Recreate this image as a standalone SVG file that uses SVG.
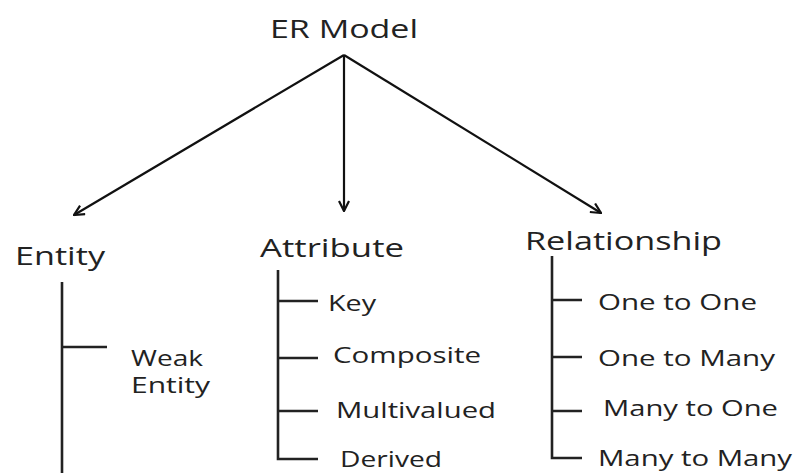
<svg xmlns="http://www.w3.org/2000/svg" width="799" height="473" viewBox="0 0 799 473">
<style>
text{font-family:"Open Sans","Liberation Sans",sans-serif;fill:#222}
.h{font-size:25px}
.s{font-size:21px}
.t{fill:none;stroke:#222;stroke-width:2.6}
.a{fill:none;stroke:#111;stroke-width:2.2}
</style>
<defs>
<marker id="arr" viewBox="0 0 12 12" refX="11" refY="6" markerWidth="12" markerHeight="12" markerUnits="userSpaceOnUse" orient="auto">
<path d="M1,1 L11,6 L1,11" fill="none" stroke="#111" stroke-width="2.2"/>
</marker>
</defs>
<rect width="799" height="473" fill="#fff"/>
<g id="er-model"><text class="h" x="270" y="38" textLength="148" lengthAdjust="spacingAndGlyphs">ER Model</text></g>
<g id="connectors">
<line class="a" x1="344" y1="55" x2="74" y2="215" marker-end="url(#arr)"/>
<line class="a" x1="344" y1="55" x2="344" y2="211" marker-end="url(#arr)"/>
<line class="a" x1="344" y1="55" x2="601" y2="213" marker-end="url(#arr)"/>
</g>
<g id="entity">
<text class="h" x="15" y="265" textLength="90" lengthAdjust="spacingAndGlyphs">Entity</text>
<path class="t" d="M62,282 V473 M62,347 H107"/>
</g>
<g id="weak-entity">
<text class="s" x="131" y="366" textLength="72" lengthAdjust="spacingAndGlyphs">Weak</text>
<text class="s" x="131" y="393" textLength="79" lengthAdjust="spacingAndGlyphs">Entity</text>
</g>
<g id="attribute">
<text class="h" x="260" y="257" textLength="144" lengthAdjust="spacingAndGlyphs">Attribute</text>
<path class="t" d="M278,270 V459 H318 M278,301 H318 M278,358 H318 M278,411 H318"/>
</g>
<g id="key"><text class="s" x="328" y="311" textLength="48" lengthAdjust="spacingAndGlyphs">Key</text></g>
<g id="composite"><text class="s" x="333" y="363" textLength="148" lengthAdjust="spacingAndGlyphs">Composite</text></g>
<g id="multivalued"><text class="s" x="336" y="418" textLength="160" lengthAdjust="spacingAndGlyphs">Multivalued</text></g>
<g id="derived"><text class="s" x="340" y="467" textLength="102" lengthAdjust="spacingAndGlyphs">Derived</text></g>
<g id="relationship">
<text class="h" x="525" y="250" textLength="197" lengthAdjust="spacingAndGlyphs">Relationship</text>
<path class="t" d="M552,256 V458 H582 M552,300 H582 M552,357 H582 M552,411 H582"/>
</g>
<g id="one-to-one"><text class="s" x="598" y="310" textLength="159" lengthAdjust="spacingAndGlyphs">One to One</text></g>
<g id="one-to-many"><text class="s" x="598" y="366" textLength="177" lengthAdjust="spacingAndGlyphs">One to Many</text></g>
<g id="many-to-one"><text class="s" x="603" y="416" textLength="175" lengthAdjust="spacingAndGlyphs">Many to One</text></g>
<g id="many-to-many"><text class="s" x="598" y="466" textLength="194" lengthAdjust="spacingAndGlyphs">Many to Many</text></g>
</svg>
